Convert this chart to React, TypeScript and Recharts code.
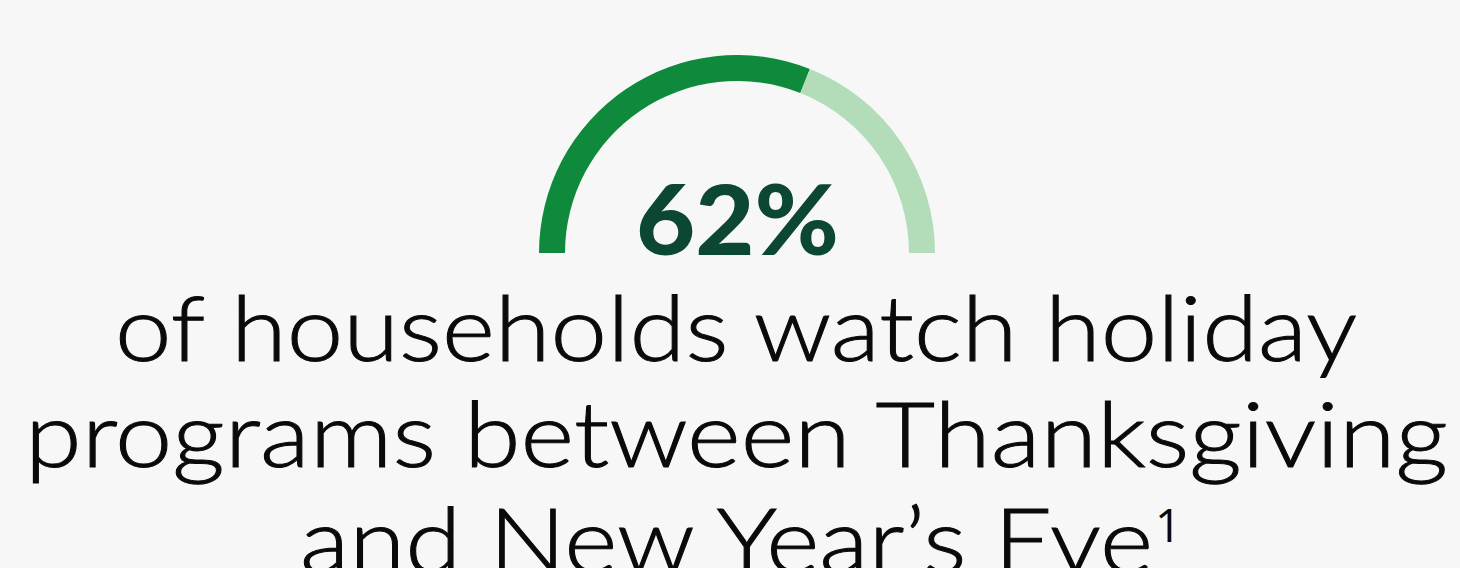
import { Pie, PieChart, Cell, Label } from 'recharts'

// share of households watching holiday programs
const slices = ['Watch', 'Do not watch']
const shares = [62, 38]
const sliceColors = ['#0f8a3c', '#b3dcb9']
const headline = '62%'
const captionLines = [
  'of households watch holiday',
  'programs between Thanksgiving',
  'and New Year\u2019s Eve',
]
const footnoteMark = '1'

const data = slices.map((name, i) => ({ name, value: shares[i] }))

const W = 1460
const H = 568
const CX = 737
const CY = 253

// measured widths / positions of each caption line in the reference
const lineBox = [
  { x: 115, w: 1242, y: 361 },
  { x: 25, w: 1423, y: 467 },
  { x: 300, w: 853, y: 573 },
]

export default function App() {
  return (
    <div
      style={{
        position: 'fixed',
        left: 0,
        top: 0,
        width: W,
        height: H,
        background: '#f7f7f7',
        overflow: 'hidden',
      }}
    >
      <PieChart width={W} height={H} margin={{ top: 0, right: 0, bottom: 0, left: 0 }}>
        <Pie
          data={data}
          dataKey="value"
          nameKey="name"
          cx={CX}
          cy={CY}
          startAngle={180}
          endAngle={0}
          innerRadius={172}
          outerRadius={198}
          stroke="none"
          isAnimationActive={false}
        >
          {data.map((d, i) => (
            <Cell key={d.name} fill={sliceColors[i]} />
          ))}
          <Label
            position="center"
            content={() => (
              <text
                x={CX - 101}
                y={255}
                textLength={203}
                lengthAdjust="spacingAndGlyphs"
                fill="#0b4732"
                fontFamily="Lato, sans-serif"
                fontWeight={900}
                fontSize={97}
              >
                {headline}
              </text>
            )}
          />
        </Pie>
      </PieChart>
      <svg
        width={W}
        height={H}
        style={{ position: 'absolute', left: 0, top: 0, pointerEvents: 'none' }}
      >
        {captionLines.map((line, i) => (
          <text
            key={line}
            x={lineBox[i].x}
            y={lineBox[i].y}
            textLength={lineBox[i].w}
            lengthAdjust="spacingAndGlyphs"
            fill="#0a0a0a"
            stroke="#0a0a0a"
            strokeWidth={1}
            fontFamily="Lato, sans-serif"
            fontWeight={300}
            fontSize={90}
          >
            {line}
          </text>
        ))}
        <text
          x={1155}
          y={542}
          fill="#0a0a0a"
          fontFamily="'Open Sans', sans-serif"
          fontWeight={400}
          fontSize={46}
        >
          {footnoteMark}
        </text>
      </svg>
    </div>
  )
}
